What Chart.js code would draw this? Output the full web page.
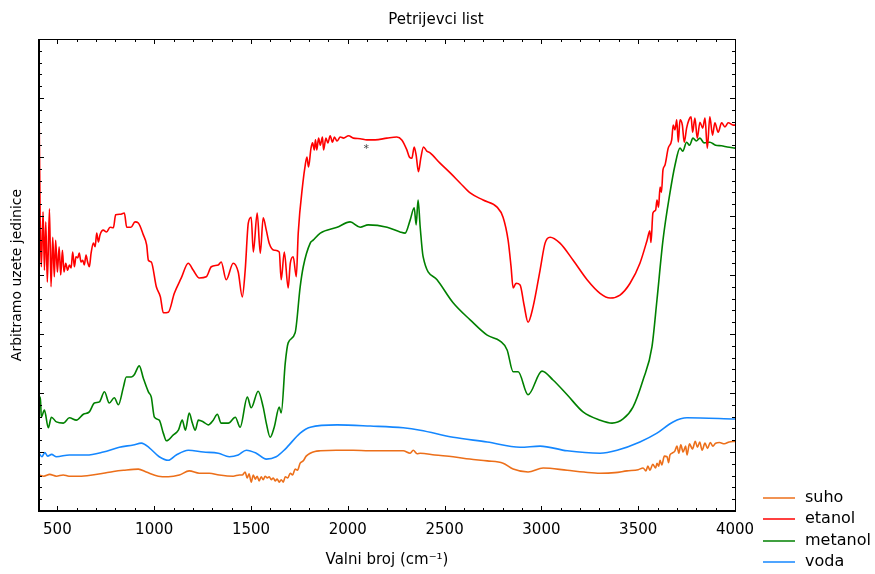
<!doctype html>
<html lang="hr">
<head>
<meta charset="UTF-8" />
<title>Petrijevci list</title>
<script src="https://cdn.jsdelivr.net/npm/chart.js"></script>
<style>
  html, body { margin: 0; padding: 0; background: #fff; }
  #okvir { width: 875px; height: 574px; }
</style>
</head>
<body>
<div id="okvir"><canvas id="spektar" width="875" height="574"></canvas></div>
<script>
const naslov = "Petrijevci list";
const nazivX = "Valni broj (cm⁻¹)";
const nazivY = "Arbitramo uzete jedinice";
const nazivi = ["suho", "etanol", "metanol", "voda"];
const boje = ["#EC6F1A", "#FF0000", "#008000", "#1487FF"];
const xOznake = [500, 1000, 1500, 2000, 2500, 3000, 3500, 4000];

// valni broj (cm-1) i intenzitet (proizvoljne jedinice) po uzorku
const suhoX = [405, 430, 460, 495, 530, 560, 613, 680, 737, 790,
  841, 918, 959, 1021, 1073, 1130, 1181, 1233, 1285, 1336,
  1408, 1440, 1455, 1470, 1480, 1490, 1501, 1512, 1522, 1532,
  1542, 1553, 1563, 1573, 1584, 1594, 1605, 1615, 1625, 1635,
  1646, 1656, 1667, 1677, 1690, 1703, 1715, 1728, 1740, 1754,
  1770, 1785, 1806, 1830, 1858, 1940, 2028, 2110, 2203, 2286,
  2322, 2338, 2358, 2374, 2450, 2544, 2630, 2720, 2802, 2854,
  2931, 3009, 3133, 3220, 3303, 3380, 3442, 3500, 3525, 3540,
  3550, 3561, 3575, 3590, 3597, 3606, 3613, 3622, 3635, 3649,
  3657, 3664, 3675, 3690, 3700, 3710, 3720, 3732, 3745, 3752,
  3765, 3780, 3795, 3806, 3818, 3830, 3845, 3858, 3872, 3886,
  3900, 3920, 3945, 3970, 4000];
const suhoY = [0.61, 0.59, 0.62, 0.59, 0.61, 0.59, 0.59, 0.61, 0.64, 0.67,
  0.69, 0.71, 0.66, 0.59, 0.58, 0.61, 0.68, 0.64, 0.64, 0.61,
  0.59, 0.61, 0.61, 0.66, 0.56, 0.63, 0.49, 0.61, 0.54, 0.59,
  0.51, 0.58, 0.53, 0.59, 0.56, 0.58, 0.53, 0.56, 0.51, 0.54,
  0.49, 0.53, 0.49, 0.58, 0.56, 0.64, 0.61, 0.71, 0.69, 0.81,
  0.85, 0.93, 0.98, 1.01, 1.02, 1.03, 1.03, 1.02, 1.02, 1.02,
  0.98, 1.03, 0.97, 0.98, 0.95, 0.92, 0.88, 0.85, 0.81, 0.71,
  0.66, 0.73, 0.69, 0.66, 0.64, 0.65, 0.68, 0.70, 0.73, 0.68,
  0.76, 0.69, 0.79, 0.73, 0.81, 0.76, 0.86, 0.78, 0.93, 0.92,
  0.82, 0.95, 0.98, 1.02, 1.10, 0.98, 1.12, 1.00, 1.10, 0.95,
  1.14, 1.05, 1.18, 1.08, 1.17, 1.03, 1.15, 1.06, 1.16, 1.10,
  1.15, 1.16, 1.14, 1.17, 1.18];

const etanolX = [405, 411, 417, 426, 433, 440, 448, 459, 467, 476,
  484, 491, 500, 509, 517, 526, 534, 543, 553, 562,
  571, 579, 588, 596, 605, 613, 622, 631, 639, 648,
  656, 665, 674, 686, 695, 703, 712, 720, 737, 754,
  772, 789, 801, 824, 846, 858, 880, 901, 918, 944,
  961, 970,
  985, 1011, 1032, 1047, 1073, 1104, 1140, 1176, 1202, 1233,
  1269, 1295, 1331, 1346, 1372, 1408, 1434, 1455, 1470, 1486,
  1501, 1512, 1532, 1548, 1563, 1579, 1594, 1620, 1646, 1656,
  1672, 1692, 1703, 1718, 1734,
  1744, 1768, 1780, 1789, 1797, 1810, 1818, 1827, 1833, 1840,
  1849, 1858, 1869, 1875, 1887, 1897, 1909, 1921, 1931, 1944,
  1961, 1978, 2004, 2029, 2064, 2099, 2141, 2202, 2253, 2279,
  2305, 2318, 2331, 2343, 2353, 2365, 2377, 2391, 2408, 2425,
  2475, 2529, 2580, 2632, 2699, 2771, 2802, 2828, 2843, 2854,
  2869, 2890, 2910, 2931, 2957, 2993, 3019, 3045, 3096, 3164,
  3236, 3303, 3355, 3406, 3458, 3509,
  3546, 3560, 3566, 3576, 3590, 3597, 3605, 3613, 3620, 3628,
  3638, 3655, 3673, 3681, 3690, 3699, 3707, 3716, 3728, 3738,
  3750, 3762, 3773, 3781, 3793, 3805, 3819, 3833, 3845, 3857,
  3870, 3884, 3896, 3913, 3931, 3948, 3965, 3991, 4000];
const etanolY = [7.0, 4.93, 4.14, 5.07, 4.08, 4.90, 3.88, 5.12, 3.80, 4.64,
  3.97, 4.59, 4.05, 4.48, 4.00, 4.42, 4.05, 4.20, 4.08, 4.17,
  4.12, 4.39, 4.14, 4.31, 4.29, 4.37, 4.22, 4.25, 4.17, 4.34,
  4.22, 4.14, 4.37, 4.54, 4.48, 4.71, 4.56, 4.68, 4.76, 4.73,
  4.81, 4.80, 5.02, 5.03, 5.05, 4.81, 4.81, 4.90, 4.88, 4.68,
  4.51, 4.25,
  4.22, 3.80, 3.63, 3.36, 3.37, 3.69, 3.95, 4.20, 4.08, 3.95,
  3.97, 4.14, 4.17, 4.22, 3.92, 4.20, 4.05, 3.63, 4.08, 4.88,
  4.98, 4.39, 5.05, 4.37, 4.97, 4.76, 4.54, 4.42, 4.39, 3.92,
  4.39, 3.78, 4.20, 4.31, 3.97,
  4.71, 5.56, 5.86, 6.00, 5.83, 6.15, 6.24, 6.12, 6.29, 6.12,
  6.32, 6.20, 6.34, 6.12, 6.32, 6.24, 6.36, 6.25, 6.34, 6.27,
  6.34, 6.32, 6.36, 6.32, 6.31, 6.29, 6.29, 6.32, 6.34, 6.29,
  6.12, 6.00, 5.98, 6.17, 6.03, 5.75, 5.98, 6.17, 6.10, 6.07,
  5.90, 5.73, 5.56, 5.39, 5.27, 5.15, 4.98, 4.59, 4.15, 3.78,
  3.86, 3.83, 3.50, 3.20, 3.46, 4.08, 4.54, 4.64, 4.54, 4.25,
  3.92, 3.69, 3.61, 3.66, 3.86, 4.20,
  4.59, 4.75, 4.55, 5.05, 5.10, 5.27, 5.15, 5.49, 5.40, 5.78,
  5.86, 6.15, 6.29, 6.54, 6.46, 6.63, 6.25, 6.63, 6.54, 6.25,
  6.49, 6.63, 6.68, 6.42, 6.66, 6.32, 6.59, 6.49, 6.66, 6.15,
  6.68, 6.37, 6.58, 6.42, 6.58, 6.51, 6.58, 6.54, 6.54];

const metanolX = [405, 412, 417, 433, 453, 469, 495, 531, 562, 598,
  634, 665, 691, 717, 743, 768, 794, 815, 841, 856,
  882, 897, 923, 944, 970, 985, 1001, 1026, 1047, 1063,
  1099, 1125, 1145, 1161, 1181, 1197, 1212, 1228, 1254, 1279,
  1305, 1326, 1346, 1383, 1419, 1444, 1481, 1501, 1537, 1563,
  1579, 1599, 1620, 1646, 1656, 1677, 1692, 1728, 1754, 1770,
  1806, 1821, 1858, 1945, 2012, 2064, 2105, 2203, 2270, 2296,
  2322, 2343, 2353, 2363, 2374, 2389, 2461, 2544, 2632, 2720,
  2787, 2823, 2854, 2880, 2931, 3003, 3060, 3133, 3215, 3303,
  3365, 3422, 3473, 3525, 3571, 3597, 3628, 3664,
  3690, 3716, 3730, 3750, 3765, 3783, 3800, 3819, 3840, 3870,
  3900, 3930, 3960, 4000];
const metanolY = [1.80, 1.93, 1.59, 1.71, 1.41, 1.59, 1.51, 1.49, 1.58, 1.54,
  1.64, 1.68, 1.83, 1.85, 2.02, 1.83, 1.92, 1.80, 2.10, 2.27,
  2.27, 2.31, 2.46, 2.25, 2.02, 1.93, 1.59, 1.54, 1.32, 1.19,
  1.29, 1.37, 1.54, 1.37, 1.66, 1.49, 1.37, 1.54, 1.51, 1.46,
  1.54, 1.64, 1.49, 1.49, 1.59, 1.42, 1.93, 1.75, 2.03, 1.76,
  1.49, 1.25, 1.42, 1.76, 1.66, 2.51, 2.85, 3.02, 3.80, 4.14,
  4.54, 4.59, 4.71, 4.81, 4.90, 4.81, 4.85, 4.81, 4.73, 4.71,
  4.93, 5.14, 4.85, 5.27, 4.81, 4.31, 3.92, 3.53, 3.24, 2.98,
  2.88, 2.73, 2.36, 2.36, 1.97, 2.37, 2.22, 1.97, 1.68, 1.54,
  1.49, 1.56, 1.76, 2.22, 2.78, 3.58, 4.59, 5.39,
  5.86, 6.15, 6.10, 6.25, 6.20, 6.32, 6.27, 6.32, 6.24, 6.25,
  6.20, 6.19, 6.17, 6.15];

const vodaX = [405, 420, 435, 450, 470, 495, 562, 650, 737, 820,
  892, 934, 975, 1026, 1073, 1114, 1176, 1254, 1331, 1388,
  1434, 1476, 1527, 1579, 1630, 1677, 1754, 1806, 1945, 2116,
  2286, 2374, 2544, 2720, 2890, 2993, 3133, 3303, 3391, 3509,
  3597, 3680, 3752, 4000];
const vodaY = [0.98, 0.92, 0.99, 0.93, 0.96, 0.92, 0.95, 0.95, 1.00, 1.08,
  1.12, 1.15, 1.07, 0.92, 0.86, 0.95, 1.03, 1.00, 0.98, 0.92,
  0.95, 1.03, 0.98, 0.88, 0.92, 1.05, 1.32, 1.42, 1.46, 1.44,
  1.41, 1.37, 1.25, 1.17, 1.08, 1.10, 1.02, 0.98, 1.03, 1.17,
  1.32, 1.51, 1.58, 1.56];

// oznaka * iznad vrpce etanola
const zvjezdica = { x: 2095, y: 6.17 };

function tocke(xs, ys) {
  return xs.map((x, i) => ({ x: x, y: ys[i] }));
}

const serije = [
  tocke(suhoX, suhoY),
  tocke(etanolX, etanolY),
  tocke(metanolX, metanolY),
  tocke(vodaX, vodaY),
];

const font = "DejaVu Sans";

// okvir, unutarnje crtice, naslov, zvjezdica i legenda
const ukrasi = {
  id: "ukrasi",
  afterDraw(chart) {
    const ctx = chart.ctx;
    const a = chart.chartArea;
    const sx = chart.scales.x;
    const sy = chart.scales.y;
    ctx.save();
    ctx.strokeStyle = "#000";

    ctx.lineWidth = 1;
    for (let v = 500; v <= 4000; v += 100) {
      const px = Math.round(sx.getPixelForValue(v)) + 0.5;
      const d = v % 500 === 0 ? 5 : 3;
      ctx.beginPath();
      ctx.moveTo(px, a.bottom); ctx.lineTo(px, a.bottom - d);
      ctx.moveTo(px, a.top); ctx.lineTo(px, a.top + d);
      ctx.stroke();
    }
    for (let i = 1; i < 40; i++) {
      const py = Math.round(sy.getPixelForValue(i * 0.2)) + 0.5;
      const d = i % 5 === 0 ? 5 : 3;
      ctx.beginPath();
      ctx.moveTo(a.left, py); ctx.lineTo(a.left + d, py);
      ctx.moveTo(a.right, py); ctx.lineTo(a.right - d, py);
      ctx.stroke();
    }

    ctx.beginPath();
    ctx.moveTo(a.left, a.top + 0.5); ctx.lineTo(a.right + 0.5, a.top + 0.5);
    ctx.lineTo(a.right + 0.5, a.bottom);
    ctx.stroke();
    ctx.lineWidth = 2;
    ctx.beginPath();
    ctx.moveTo(a.left, a.top); ctx.lineTo(a.left, a.bottom);
    ctx.lineTo(a.right + 1, a.bottom);
    ctx.stroke();

    ctx.fillStyle = "#000";
    ctx.font = "15px '" + font + "'";
    ctx.textAlign = "center";
    ctx.textBaseline = "middle";
    ctx.fillText(naslov, 436, 20);

    ctx.fillStyle = "#444";
    ctx.font = "11px '" + font + "'";
    ctx.fillText("*", sx.getPixelForValue(zvjezdica.x), sy.getPixelForValue(zvjezdica.y) + 2);

    const redovi = [498, 519, 541, 562];
    ctx.font = "16px '" + font + "'";
    ctx.textAlign = "left";
    chart.data.datasets.forEach((ds, i) => {
      ctx.strokeStyle = ds.borderColor;
      ctx.lineWidth = 1.5;
      ctx.beginPath();
      ctx.moveTo(763, redovi[i]); ctx.lineTo(795, redovi[i]);
      ctx.stroke();
      ctx.fillStyle = "#000";
      ctx.fillText(ds.label, 805, redovi[i]);
    });
    ctx.restore();
  },
};

new Chart(document.getElementById("spektar"), {
  type: "line",
  data: {
    datasets: serije.map((d, i) => ({
      label: nazivi[i],
      data: d,
      borderColor: boje[i],
      backgroundColor: boje[i],
      borderWidth: 1.6,
      pointRadius: 0,
      cubicInterpolationMode: "monotone",
      fill: false,
    })),
  },
  options: {
    responsive: false,
    animation: false,
    layout: { padding: { top: 39, right: 140, left: 0, bottom: 0 } },
    plugins: {
      legend: { display: false },
      title: { display: false },
      tooltip: { enabled: false },
    },
    scales: {
      x: {
        type: "linear",
        min: 405,
        max: 4000,
        grid: { display: false, drawTicks: false },
        border: { display: false },
        afterBuildTicks: (s) => { s.ticks = xOznake.map((v) => ({ value: v })); },
        ticks: {
          padding: 10,
          maxRotation: 0,
          autoSkip: false,
          color: "#000",
          font: { family: font, size: 15 },
          callback: (v) => String(v),
        },
        title: {
          display: true,
          text: nazivX,
          color: "#000",
          font: { family: font, size: 15 },
          padding: { top: 0, bottom: 5 },
        },
        afterFit: (s) => { s.height = 63; },
      },
      y: {
        min: 0,
        max: 8,
        grid: { display: false, drawTicks: false },
        border: { display: false },
        ticks: { display: false },
        title: {
          display: true,
          text: nazivY,
          color: "#000",
          font: { family: font, size: 14 },
          padding: { top: 9, bottom: 0 },
        },
        afterFit: (s) => { s.width = 39; },
      },
    },
  },
  plugins: [ukrasi],
});
</script>
</body>
</html>
